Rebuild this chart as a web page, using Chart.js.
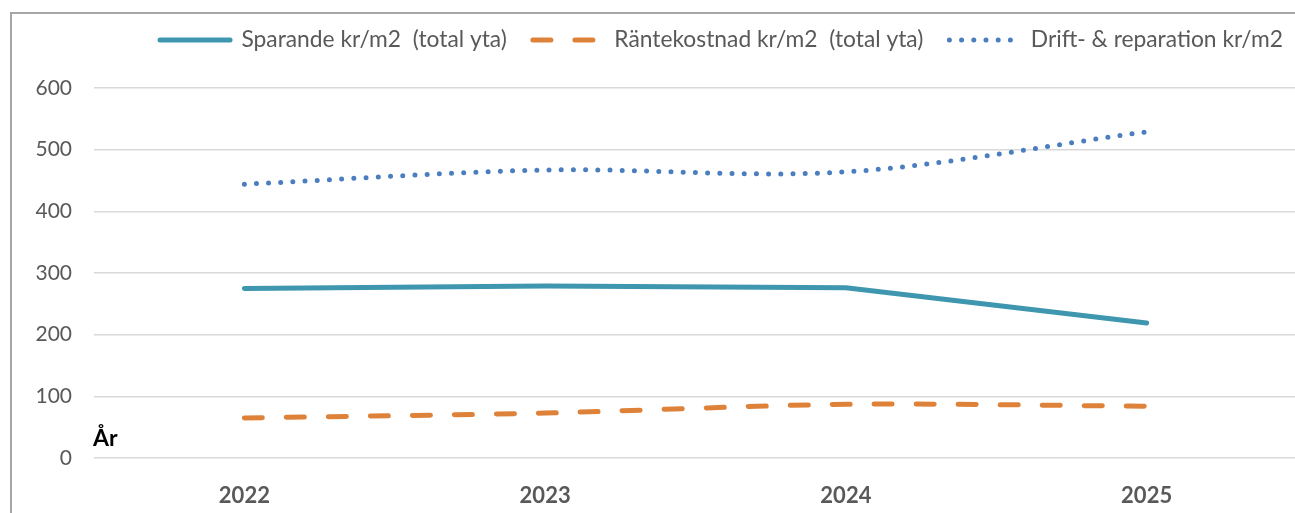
<!DOCTYPE html>
<html>
<head>
<meta charset="utf-8">
<script src="https://cdn.jsdelivr.net/npm/chart.js@4.4.1/dist/chart.umd.min.js"></script>
<style>
  html, body { margin: 0; padding: 0; background: #fff; overflow: hidden; width: 1295px; height: 513px; }
  #frame { position: absolute; left: 10px; top: 12px; width: 2000px; height: 1000px;
           border-left: 2px solid #a6a6a6; border-top: 2px solid #a6a6a6; box-sizing: border-box; }
  #c { position: absolute; left: 0; top: 0; }
</style>
</head>
<body>
<div id="frame"></div>
<canvas id="c" width="1309" height="513" style="width:1309px;height:513px"></canvas>
<script>
// ---- data ----
const years = ['2022', '2023', '2024', '2025'];
const sparande = [275, 279, 276, 219];
const rantekostnad = [65, 73, 87, 84];
const drift = [444, 467, 464, 529];
const seriesNames = ['Sparande kr/m2  (total yta)', 'Räntekostnad kr/m2  (total yta)', 'Drift- & reparation kr/m2'];
const yMin = 0, yMax = 600, yStep = 100;
const axisLabel = 'År';

Chart.defaults.font.family = 'Lato';

const aarPlugin = {
  id: 'aar',
  afterDraw(chart) {
    const ctx = chart.ctx;
    const ys = chart.scales.y;
    ctx.save();
    ctx.font = 'bold 23px Lato';
    ctx.fillStyle = '#000';
    ctx.textAlign = 'left';
    ctx.textBaseline = 'middle';
    ctx.fillText(axisLabel, chart.chartArea.left - 1, ys.getPixelForValue(yMin) - 19);
    ctx.restore();
  }
};

new Chart(document.getElementById('c'), {
  type: 'line',
  data: {
    labels: years,
    datasets: [
      { label: seriesNames[0], data: sparande, borderColor: '#3f97af', backgroundColor: '#3f97af',
        borderWidth: 5, borderCapStyle: 'round', borderJoinStyle: 'round', tension: 0,
        pointRadius: 0, xAxisID: 'x', yAxisID: 'y' },
      { label: seriesNames[1], data: rantekostnad, borderColor: '#df8239', backgroundColor: '#df8239',
        borderWidth: 5, borderCapStyle: 'round', borderDash: [18, 24], tension: 0.33,
        pointRadius: 0, xAxisID: 'x', yAxisID: 'y' },
      { label: seriesNames[2], data: drift, borderColor: '#4a7ebf', backgroundColor: '#4a7ebf',
        borderWidth: 5, borderCapStyle: 'round', borderDash: [0, 12.2], tension: 0.33,
        pointRadius: 0, xAxisID: 'x', yAxisID: 'y' }
    ]
  },
  options: {
    responsive: false,
    animation: false,
    layout: { padding: { left: 0, right: 0, top: 2.6, bottom: 0 } },
    plugins: {
      tooltip: { enabled: false },
      legend: {
        position: 'top',
        align: 'end',
        labels: {
          color: '#595959',
          font: { size: 22.8 },
          padding: 26,
          usePointStyle: true,
          pointStyleWidth: 70,
          generateLabels(chart) {
            return chart.data.datasets.map((ds, i) => ({
              text: ds.label,
              fillStyle: ds.borderColor,
              strokeStyle: ds.borderColor,
              fontColor: '#595959',
              lineWidth: ds.borderWidth,
              lineCap: 'round',
              lineDash: ds.borderDash || [],
              lineDashOffset: 0,
              pointStyle: 'line',
              hidden: false,
              datasetIndex: i
            }));
          }
        }
      }
    },
    scales: {
      x: {
        type: 'category',
        position: 'bottom',
        offset: true,
        grid: { display: false },
        border: { display: false },
        ticks: { color: '#595959', font: { size: 22, weight: 'bold' }, padding: 17 },
        afterFit(s) { s.height = 55; }
      },
      y: {
        type: 'linear',
        position: 'left',
        min: yMin, max: yMax,
        grid: { color: '#d9d9d9', lineWidth: 1.5, drawTicks: false },
        border: { display: false },
        ticks: { stepSize: yStep, color: '#595959', font: { size: 21 }, padding: 22 },
        afterFit(s) { s.width = 94; }
      },
      xTop: {
        type: 'category', position: 'top', display: true,
        grid: { display: false }, border: { display: false }, ticks: { display: false },
        afterFit(s) { s.height = 26.6; }
      },
      yRight: {
        type: 'linear', position: 'right', display: true,
        grid: { display: false }, border: { display: false }, ticks: { display: false },
        afterFit(s) { s.width = 12; }
      }
    }
  },
  plugins: [aarPlugin]
});
</script>
</body>
</html>
